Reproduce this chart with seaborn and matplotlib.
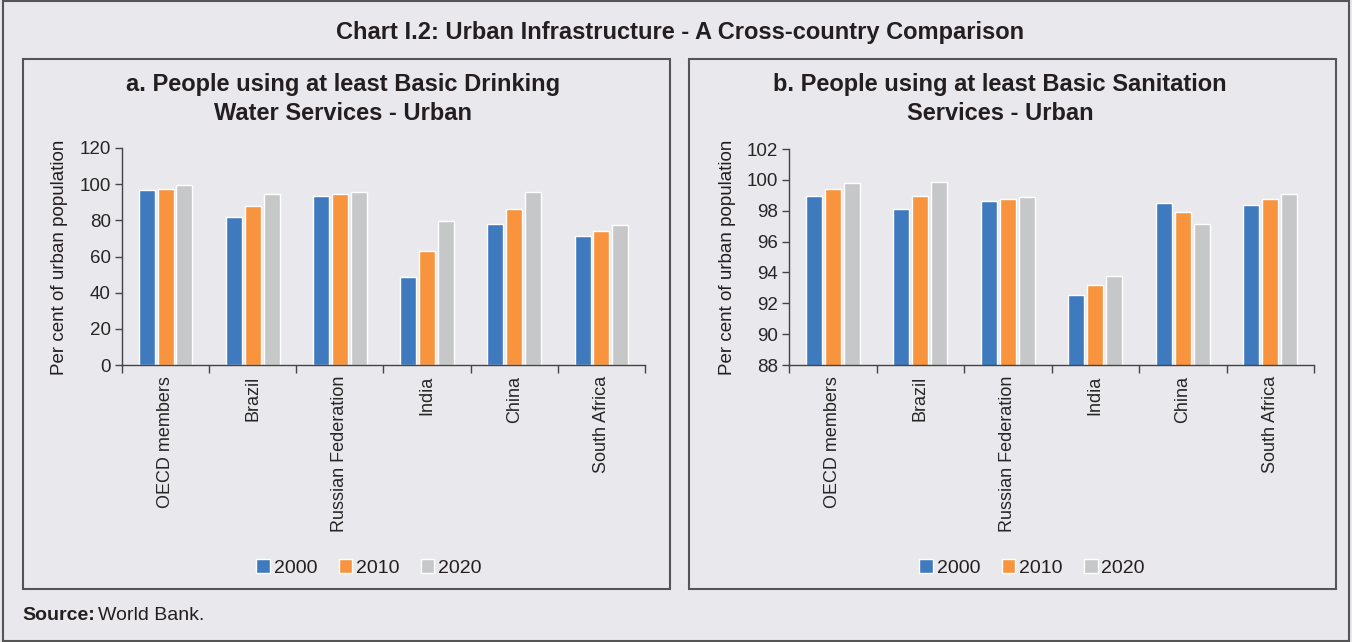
import pandas as pd
import numpy as np
import matplotlib.pyplot as plt
import seaborn as sns
from matplotlib.patches import Rectangle

# -----------------------------------
# DATA
# -----------------------------------

countries = ["OECD members", "Brazil", "Russian Federation", "India", "China", "South Africa"]
years = ["2000", "2010", "2020"]

water_2000 = [96.9, 81.6, 93.6, 48.5, 77.8, 71.1]
water_2010 = [97.6, 87.7, 94.3, 63.1, 86.2, 74.1]
water_2020 = [99.3, 94.7, 95.6, 79.8, 95.6, 77.6]

sanit_2000 = [98.98, 98.14, 98.63, 92.53, 98.48, 98.38]
sanit_2010 = [99.43, 98.96, 98.79, 93.20, 97.92, 98.74]
sanit_2020 = [99.80, 99.88, 98.89, 93.74, 97.17, 99.07]

colors = ["#3F7ABE", "#F7943D", "#C6C7C9"]
bg = "#E9E8ED"


def long_df(v2000, v2010, v2020):
    rows = []
    for year, vals in zip(years, [v2000, v2010, v2020]):
        for c, v in zip(countries, vals):
            rows.append({"country": c, "year": year, "value": v})
    return pd.DataFrame(rows)


water_df = long_df(water_2000, water_2010, water_2020)
sanit_df = long_df(sanit_2000, sanit_2010, sanit_2020)

# -----------------------------------
# FIGURE
# -----------------------------------

sns.set_theme(style="ticks")
plt.rcParams["font.family"] = ["Liberation Sans", "DejaVu Sans"]
plt.rcParams["text.color"] = "#231F20"

fig = plt.figure(figsize=(13.52, 6.42), dpi=100)
fig.patch.set_facecolor(bg)

# outer border and panel boxes
fig.patches.append(Rectangle((3 / 1352, 1 / 642), 1346 / 1352, 640 / 642, transform=fig.transFigure,
                             fill=False, edgecolor="#555555", linewidth=1.5))
fig.patches.append(Rectangle((23 / 1352, 1 - 589 / 642), 647 / 1352, 530 / 642, transform=fig.transFigure,
                             fill=False, edgecolor="#555555", linewidth=1.5))
fig.patches.append(Rectangle((689 / 1352, 1 - 589 / 642), 647 / 1352, 530 / 642, transform=fig.transFigure,
                             fill=False, edgecolor="#555555", linewidth=1.5))

fig.text(680 / 1352, 1 - 32 / 642, "Chart I.2: Urban Infrastructure - A Cross-country Comparison",
         ha="center", va="center", fontsize=17, fontweight="bold")
fig.text(22 / 1352, 1 - 615 / 642, "Source:", ha="left", va="center", fontsize=14, fontweight="bold")
fig.text(98 / 1352, 1 - 615 / 642, "World Bank.", ha="left", va="center", fontsize=14)

panels = [
    {"df": water_df, "pos": [122 / 1352, 1 - 365 / 642, 523 / 1352, 217 / 642],
     "title": "a. People using at least Basic Drinking\nWater Services - Urban",
     "ylim": (0, 120), "yticks": np.arange(0, 121, 20), "title_x": 343 / 1352,
     "ylab_x": 60 / 1352, "leg_x": 369 / 1352},
    {"df": sanit_df, "pos": [789 / 1352, 1 - 365 / 642, 525 / 1352, 216 / 642],
     "title": "b. People using at least Basic Sanitation\nServices - Urban",
     "ylim": (88, 102), "yticks": np.arange(88, 103, 2), "title_x": 1000 / 1352,
     "ylab_x": 727 / 1352, "leg_x": 1032 / 1352},
]

for p in panels:
    ax = fig.add_axes(p["pos"])
    ax.set_facecolor(bg)

    sns.barplot(
        data=p["df"], x="country", y="value", hue="year",
        palette=colors, width=0.65, gap=0.15, ax=ax, saturation=1
    )

    ax.set_ylim(*p["ylim"])
    ax.set_yticks(p["yticks"])
    ax.set_xlim(-0.5, len(countries) - 0.5)
    ax.set_xticks(range(len(countries)))
    ax.set_xticklabels(countries, rotation=90, fontsize=13)
    ax.set_xticks(np.arange(-0.5, len(countries)), minor=True)
    ax.tick_params(axis="x", which="major", length=0, pad=8)
    ax.tick_params(axis="x", which="minor", length=6, width=1, color="#444444")
    ax.tick_params(axis="y", length=5, width=1, color="#444444", labelsize=13.5, pad=3)
    ax.set_xlabel("")
    ax.set_ylabel("")
    sns.despine(ax=ax)
    for s in ["left", "bottom"]:
        ax.spines[s].set_color("#444444")
        ax.spines[s].set_linewidth(1)

    fig.text(p["ylab_x"], 1 - 257 / 642, "Per cent of urban population", rotation=90,
             ha="center", va="center", fontsize=13.5)
    fig.text(p["title_x"], 1 - 99 / 642, p["title"], ha="center", va="center",
             fontsize=17, fontweight="bold", linespacing=1.32)

    handles, labels = ax.get_legend_handles_labels()
    ax.legend_.remove()
    fig.legend(handles, labels, loc="center", bbox_to_anchor=(p["leg_x"], 1 - 568 / 642),
               ncol=3, frameon=False, fontsize=14, handlelength=0.7, handleheight=0.7,
               handletextpad=0.2, columnspacing=1.1)

plt.savefig("out.png", dpi=100, facecolor=bg)
